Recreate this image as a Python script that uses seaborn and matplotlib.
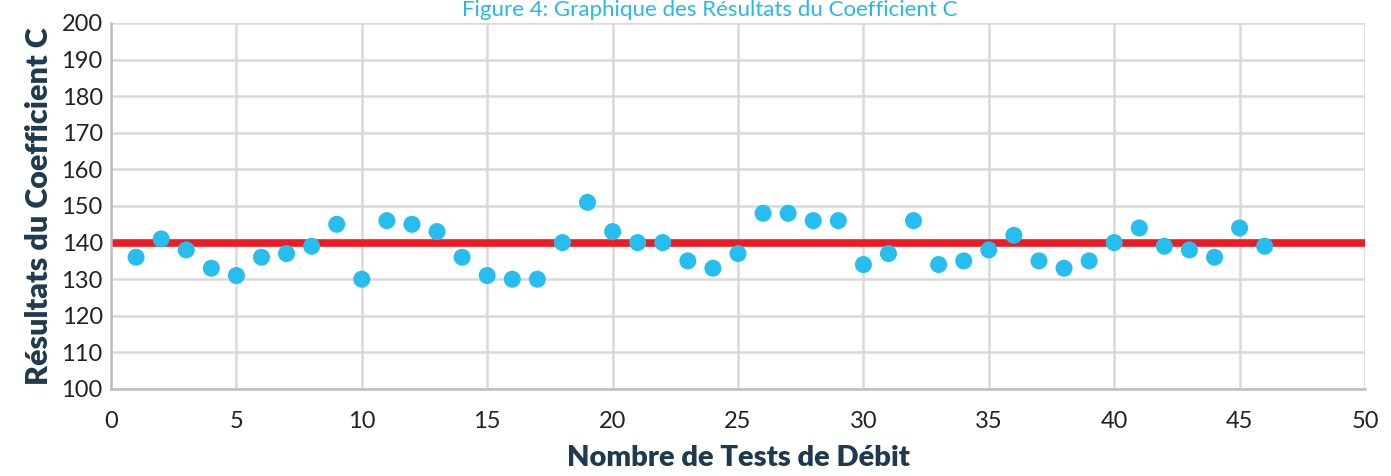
import matplotlib
import matplotlib.pyplot as plt
import seaborn as sns
import pandas as pd

matplotlib.use('Agg')

# Data
tests = list(range(1, 47))
coef_c = [136, 141, 138, 133, 131, 136, 137, 139, 145, 130,
          146, 145, 143, 136, 131, 130, 130, 140, 151, 143,
          140, 140, 135, 133, 137, 148, 148, 146, 146, 134,
          137, 146, 134, 135, 138, 142, 135, 133, 135, 140,
          144, 139, 138, 136, 144, 139]
target_x = [0, 50]
target_c = [140, 140]
x_ticks = list(range(0, 51, 5))
y_ticks = list(range(100, 201, 10))

df = pd.DataFrame({'test': tests, 'c': coef_c})

sns.set_theme(style='white')
plt.rcParams['font.family'] = ['Lato', 'DejaVu Sans']

fig = plt.figure(figsize=(13.91, 4.76), dpi=100)
ax = fig.add_axes([0.0798, 0.1828, 0.9015, 0.7689])

# Target line
sns.lineplot(x=target_x, y=target_c, ax=ax, color='#ED1C24', linewidth=5.5, zorder=2)

# Points
sns.scatterplot(data=df, x='test', y='c', ax=ax, color='#26BDEF', s=150,
                edgecolor='none', zorder=3)

ax.set_xlim(0, 50)
ax.set_ylim(100, 200)
ax.set_xticks(x_ticks)
ax.set_yticks(y_ticks)
ax.grid(True, color='#D9D9D9', linewidth=1.8, zorder=0)
ax.set_axisbelow(True)

for side in ['top', 'right']:
    ax.spines[side].set_visible(False)
for side in ['left', 'bottom']:
    ax.spines[side].set_color('#BFBFBF')
    ax.spines[side].set_linewidth(1.8)

ax.tick_params(axis='both', labelsize=17, colors='#222222', length=0)
ax.tick_params(axis='x', pad=16)
ax.tick_params(axis='y', pad=6)

ax.set_xlabel('Nombre de Tests de Débit', fontsize=21, fontweight='heavy',
              color='#1F3A4F', labelpad=9)
ax.set_ylabel('Résultats du Coefficient C', fontsize=22, fontweight='heavy',
              color='#1F3A4F', labelpad=6)

fig.text(0.51, 0.999, 'Figure 4: Graphique des Résultats du Coefficient C',
         ha='center', va='top', fontsize=16, color='#29B6E8')

plt.savefig('out.png', dpi=100)
plt.close()
